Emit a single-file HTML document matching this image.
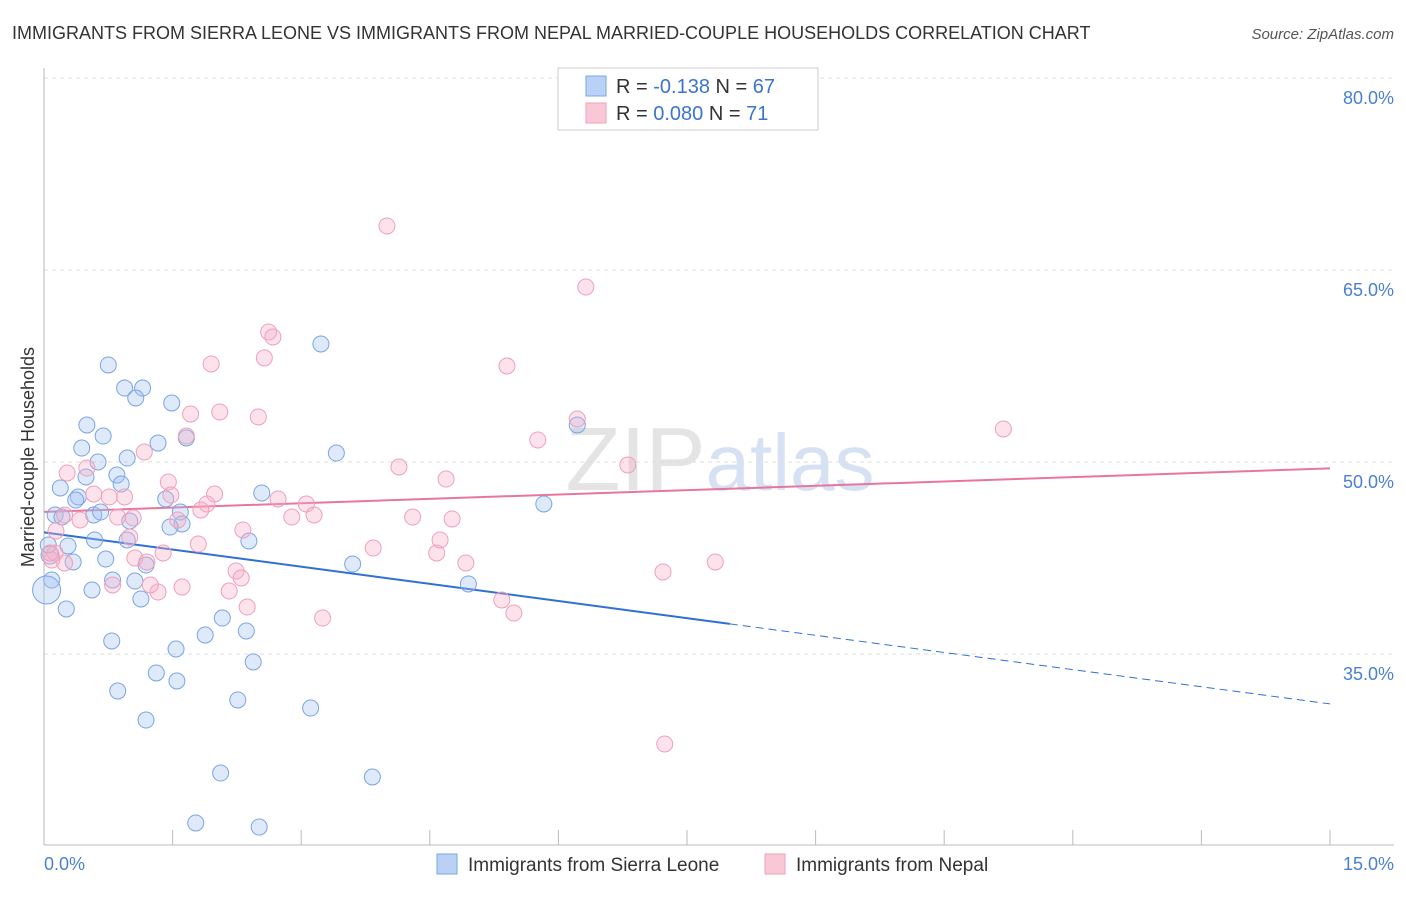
<!DOCTYPE html>
<html><head><meta charset="utf-8">
<style>
body{margin:0;background:#fff;font-family:"Liberation Sans",sans-serif;}
svg text{font-family:"Liberation Sans",sans-serif;}
</style></head>
<body>
<svg id="chart" width="1406" height="892" viewBox="0 0 1406 892" xmlns="http://www.w3.org/2000/svg">
<text x="12" y="39" font-size="18" fill="#333">IMMIGRANTS FROM SIERRA LEONE VS IMMIGRANTS FROM NEPAL MARRIED-COUPLE HOUSEHOLDS CORRELATION CHART</text>
<text x="1394" y="39" font-size="15" fill="#555" text-anchor="end" font-style="italic">Source: ZipAtlas.com</text>
<text x="720" y="490" font-size="90" fill="#e4e4e4" text-anchor="middle" font-family="Liberation Serif">ZIP<tspan fill="#d6e2f3" font-family="Liberation Sans" font-size="80">atlas</tspan></text>
<g id="grid"></g>
<g id="axes"></g>
<g id="trends"></g>
<g id="points"></g>
<text transform="translate(34,457) rotate(-90)" font-size="18" fill="#333" text-anchor="middle">Married-couple Households</text>
<text x="44" y="870" font-size="18" fill="#4a7fd4">0.0%</text>
<text x="1394" y="870" font-size="18" fill="#4a7fd4" text-anchor="end">15.0%</text>
<g>
<rect x="558" y="68" width="260" height="62" fill="#fff" stroke="#ccc"/>
<rect x="586" y="76" width="20" height="20" fill="#b9d1f4" stroke="#7aa5e6"/>
<rect x="586" y="103" width="20" height="20" fill="#f9c8d7" stroke="#f0a0b8"/>
<text x="616" y="93" font-size="20" fill="#333">R = <tspan fill="#3a74d0">-0.138</tspan>   N = <tspan fill="#3a74d0">67</tspan></text>
<text x="616" y="120" font-size="20" fill="#333">R = <tspan fill="#3a74d0">0.080</tspan>   N =  <tspan fill="#3a74d0">71</tspan></text>
</g>
<g>
<rect x="437" y="854" width="20" height="20" fill="#b9d1f4" stroke="#7aa5e6"/>
<text x="468" y="871" font-size="19" fill="#333">Immigrants from Sierra Leone</text>
<rect x="765" y="854" width="20" height="20" fill="#f9c8d7" stroke="#f0a0b8"/>
<text x="796" y="871" font-size="19" fill="#333">Immigrants from Nepal</text>
</g>
</svg>
<script>
const yTicks=[80,65,50,35];
const yTickLabels=["80.0%","65.0%","50.0%","35.0%"];
const xTicks=[0,1.5,3,4.5,6,7.5,9,10.5,12,13.5,15];
const blueX=[0.75,0.94,1.15,1.07,1.49,0.50,0.69,1.33,1.66,0.44,0.63,0.97,0.85,0.49,0.90,0.19,0.40,0.37,1.42,2.54,3.41,3.23,6.22,5.83,0.13,0.21,0.58,0.66,1.59,1.61,1.47,1.0,0.59,0.28,0.97,2.39,0.34,0.72,1.19,3.60,4.95,0.09,0.80,1.06,0.56,1.13,0.26,2.08,1.88,2.36,0.79,1.54,2.44,1.31,1.55,0.86,2.26,3.11,1.19,2.06,3.83,1.77,2.51,0.03,0.07,0.05];
const blueY=[57.58,55.78,55.78,55.0,54.61,52.89,52.03,51.48,51.88,51.09,50.0,50.31,48.98,48.83,48.28,47.97,47.27,47.03,47.11,47.58,50.7,59.22,52.89,46.72,45.86,45.70,45.86,46.09,46.09,45.16,44.92,45.39,43.91,43.44,43.91,43.83,42.19,42.42,41.95,42.03,40.47,40.78,40.78,40.7,40.0,39.3,38.52,37.81,36.48,36.8,36.02,35.39,34.38,33.52,32.89,32.11,31.41,30.78,29.84,25.70,25.39,21.8,21.48,40.0,42.73,43.52];
const blueR=[8,8,8,8,8,8,8,8,8,8,8,8,8,8,8,8,8,8,8,8,8,8,8,8,8,8,8,8,8,8,8,8,8,8,8,8,8,8,8,8,8,8,8,8,8,8,8,8,8,8,8,8,8,8,8,8,8,8,8,8,8,8,8,14,9,8];
const pinkX=[4.0,6.32,2.62,2.67,2.57,1.95,5.40,2.50,2.05,1.71,6.22,5.76,1.66,11.19,1.17,6.81,4.14,0.27,0.50,4.69,1.45,0.94,1.48,0.76,0.58,1.99,2.73,1.90,3.06,1.83,0.86,1.04,0.24,0.42,2.89,3.15,4.30,4.76,1.56,2.32,1.0,1.80,0.13,0.24,1.39,3.84,4.58,4.62,1.06,1.20,2.24,2.30,4.92,7.22,7.83,0.80,1.61,1.33,2.16,2.37,5.34,5.48,3.25,7.24,0.09,0.07,0.14,1.24];
const pinkY=[68.44,63.67,60.16,59.77,58.13,57.66,57.5,53.52,53.91,53.75,53.36,51.72,52.03,52.58,50.78,49.77,49.61,49.14,49.53,48.67,48.44,47.27,47.42,47.27,47.5,47.5,47.11,46.72,46.72,46.25,45.7,45.63,45.86,45.47,45.7,45.86,45.7,45.55,45.47,44.69,44.14,43.59,42.89,42.11,42.89,43.28,42.89,43.91,42.5,42.19,41.48,40.94,42.11,41.41,42.19,40.39,40.23,39.84,39.92,38.67,39.22,38.2,37.81,27.97,42.34,42.89,44.61,40.39];
const blueTrend=[44.5,31.1];
const pinkTrend=[46.1,49.5];
const NS="http://www.w3.org/2000/svg";
const X=v=>44+v/15*1286;
const Y=v=>78+(80-v)*12.8;
function mk(tag,attrs,parent){const e=document.createElementNS(NS,tag);for(const k in attrs)e.setAttribute(k,attrs[k]);parent.appendChild(e);return e;}
const grid=document.getElementById('grid'),axes=document.getElementById('axes'),trends=document.getElementById('trends'),pts=document.getElementById('points');
yTicks.forEach((t,i)=>{
 const l=mk('line',{x1:44,x2:1394,y1:Y(t),y2:Y(t),stroke:'#ddd','stroke-dasharray':'4,4'},grid);
 
 
 const tx=mk('text',{x:1394,y:Y(t)+26,'font-size':18,fill:'#4a7fd4','text-anchor':'end'},grid);
 tx.textContent=yTickLabels[i];
 
 
});
const ax=mk('line',{x1:44,x2:1394,y1:845,y2:845,stroke:'#bbb'},axes);


const ay=mk('line',{x1:44,x2:44,y1:68,y2:845,stroke:'#bbb'},axes);


xTicks.forEach(t=>{
 const l=mk('line',{x1:X(t),x2:X(t),y1:830,y2:845,stroke:'#bbb'},axes);
 
 
});
function addPts(xs,ys,rs,fill,stroke,name){
 xs.forEach((x,i)=>{
  const c=mk('circle',{cx:X(x),cy:Y(ys[i]),r:rs?rs[i]:8,fill:fill,stroke:stroke,'stroke-width':1},pts);
  
  
 });
}
addPts(blueX,blueY,blueR,'rgba(160,192,240,0.35)','#7aa5e6','sierra-leone-point');
addPts(pinkX,pinkY,null,'rgba(246,175,198,0.35)','#f0a0b8','nepal-point');
const bSplit=8;
const bAt=x=>blueTrend[0]+(blueTrend[1]-blueTrend[0])*x/15;
const b1=mk('line',{x1:X(0),y1:Y(bAt(0)),x2:X(bSplit),y2:Y(bAt(bSplit)),stroke:'#2f6fd6','stroke-width':2},trends);


const b2=mk('line',{x1:X(bSplit),y1:Y(bAt(bSplit)),x2:X(15),y2:Y(bAt(15)),stroke:'#2f6fd6','stroke-width':1,'stroke-dasharray':'8,5'},trends);


const p1=mk('line',{x1:X(0),y1:Y(pinkTrend[0]),x2:X(15),y2:Y(pinkTrend[1]),stroke:'#e8769c','stroke-width':2},trends);


</script>
</body></html>
